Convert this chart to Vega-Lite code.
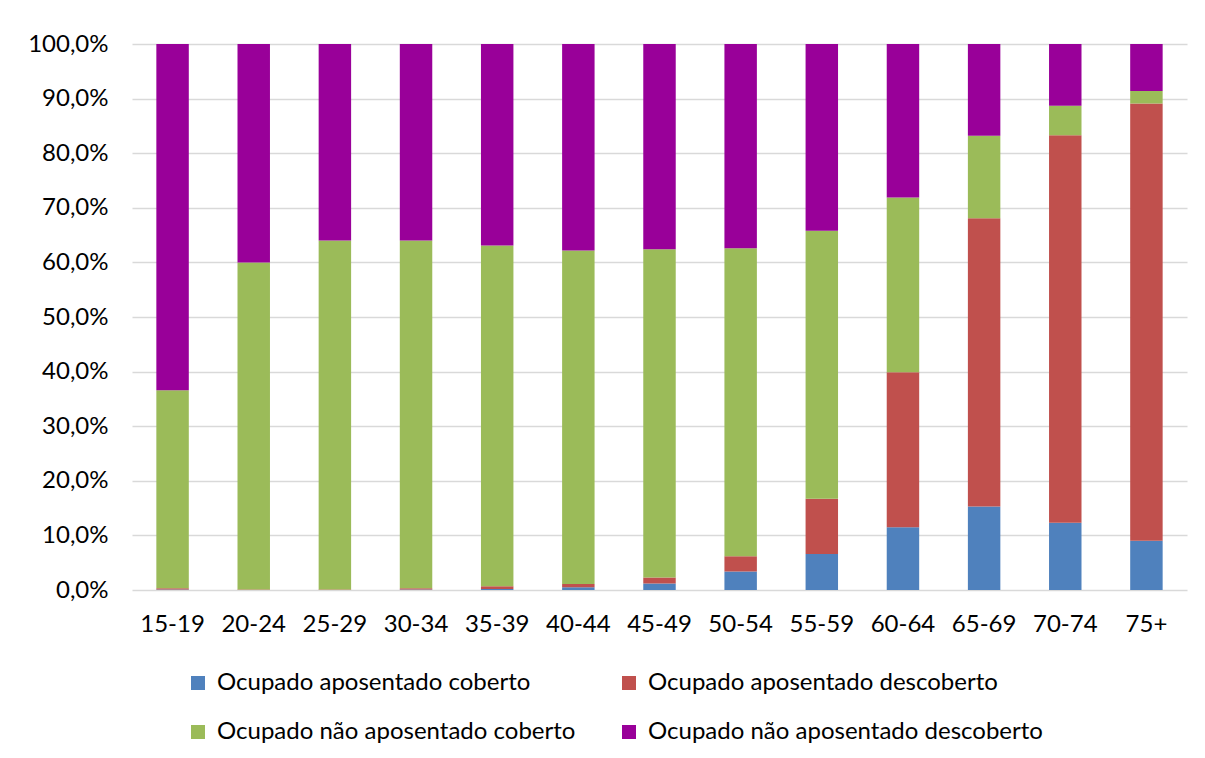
{
  "$schema": "https://vega.github.io/schema/vega-lite/v6.json",
  "width": 1055,
  "height": 546,
  "autosize": {"type": "none"},
  "padding": {"left": 132, "top": 44, "right": 18, "bottom": 168},
  "background": "white",
  "data": {
    "values": [
      {"idade": "15-19", "cat": "Ocupado aposentado coberto", "ordem": 1, "valor": 0.1},
      {"idade": "15-19", "cat": "Ocupado aposentado descoberto", "ordem": 2, "valor": 0.2},
      {"idade": "15-19", "cat": "Ocupado não aposentado coberto", "ordem": 3, "valor": 36.3},
      {"idade": "15-19", "cat": "Ocupado não aposentado descoberto", "ordem": 4, "valor": 63.4},
      {"idade": "20-24", "cat": "Ocupado aposentado coberto", "ordem": 1, "valor": 0.0},
      {"idade": "20-24", "cat": "Ocupado aposentado descoberto", "ordem": 2, "valor": 0.1},
      {"idade": "20-24", "cat": "Ocupado não aposentado coberto", "ordem": 3, "valor": 59.9},
      {"idade": "20-24", "cat": "Ocupado não aposentado descoberto", "ordem": 4, "valor": 40.0},
      {"idade": "25-29", "cat": "Ocupado aposentado coberto", "ordem": 1, "valor": 0.0},
      {"idade": "25-29", "cat": "Ocupado aposentado descoberto", "ordem": 2, "valor": 0.1},
      {"idade": "25-29", "cat": "Ocupado não aposentado coberto", "ordem": 3, "valor": 63.9},
      {"idade": "25-29", "cat": "Ocupado não aposentado descoberto", "ordem": 4, "valor": 36.0},
      {"idade": "30-34", "cat": "Ocupado aposentado coberto", "ordem": 1, "valor": 0.1},
      {"idade": "30-34", "cat": "Ocupado aposentado descoberto", "ordem": 2, "valor": 0.2},
      {"idade": "30-34", "cat": "Ocupado não aposentado coberto", "ordem": 3, "valor": 63.7},
      {"idade": "30-34", "cat": "Ocupado não aposentado descoberto", "ordem": 4, "valor": 36.0},
      {"idade": "35-39", "cat": "Ocupado aposentado coberto", "ordem": 1, "valor": 0.2},
      {"idade": "35-39", "cat": "Ocupado aposentado descoberto", "ordem": 2, "valor": 0.5},
      {"idade": "35-39", "cat": "Ocupado não aposentado coberto", "ordem": 3, "valor": 62.4},
      {"idade": "35-39", "cat": "Ocupado não aposentado descoberto", "ordem": 4, "valor": 36.9},
      {"idade": "40-44", "cat": "Ocupado aposentado coberto", "ordem": 1, "valor": 0.5},
      {"idade": "40-44", "cat": "Ocupado aposentado descoberto", "ordem": 2, "valor": 0.6},
      {"idade": "40-44", "cat": "Ocupado não aposentado coberto", "ordem": 3, "valor": 61.1},
      {"idade": "40-44", "cat": "Ocupado não aposentado descoberto", "ordem": 4, "valor": 37.8},
      {"idade": "45-49", "cat": "Ocupado aposentado coberto", "ordem": 1, "valor": 1.2},
      {"idade": "45-49", "cat": "Ocupado aposentado descoberto", "ordem": 2, "valor": 1.1},
      {"idade": "45-49", "cat": "Ocupado não aposentado coberto", "ordem": 3, "valor": 60.1},
      {"idade": "45-49", "cat": "Ocupado não aposentado descoberto", "ordem": 4, "valor": 37.6},
      {"idade": "50-54", "cat": "Ocupado aposentado coberto", "ordem": 1, "valor": 3.4},
      {"idade": "50-54", "cat": "Ocupado aposentado descoberto", "ordem": 2, "valor": 2.8},
      {"idade": "50-54", "cat": "Ocupado não aposentado coberto", "ordem": 3, "valor": 56.4},
      {"idade": "50-54", "cat": "Ocupado não aposentado descoberto", "ordem": 4, "valor": 37.4},
      {"idade": "55-59", "cat": "Ocupado aposentado coberto", "ordem": 1, "valor": 6.6},
      {"idade": "55-59", "cat": "Ocupado aposentado descoberto", "ordem": 2, "valor": 10.1},
      {"idade": "55-59", "cat": "Ocupado não aposentado coberto", "ordem": 3, "valor": 49.1},
      {"idade": "55-59", "cat": "Ocupado não aposentado descoberto", "ordem": 4, "valor": 34.2},
      {"idade": "60-64", "cat": "Ocupado aposentado coberto", "ordem": 1, "valor": 11.5},
      {"idade": "60-64", "cat": "Ocupado aposentado descoberto", "ordem": 2, "valor": 28.4},
      {"idade": "60-64", "cat": "Ocupado não aposentado coberto", "ordem": 3, "valor": 32.0},
      {"idade": "60-64", "cat": "Ocupado não aposentado descoberto", "ordem": 4, "valor": 28.1},
      {"idade": "65-69", "cat": "Ocupado aposentado coberto", "ordem": 1, "valor": 15.3},
      {"idade": "65-69", "cat": "Ocupado aposentado descoberto", "ordem": 2, "valor": 52.8},
      {"idade": "65-69", "cat": "Ocupado não aposentado coberto", "ordem": 3, "valor": 15.1},
      {"idade": "65-69", "cat": "Ocupado não aposentado descoberto", "ordem": 4, "valor": 16.8},
      {"idade": "70-74", "cat": "Ocupado aposentado coberto", "ordem": 1, "valor": 12.3},
      {"idade": "70-74", "cat": "Ocupado aposentado descoberto", "ordem": 2, "valor": 71.0},
      {"idade": "70-74", "cat": "Ocupado não aposentado coberto", "ordem": 3, "valor": 5.4},
      {"idade": "70-74", "cat": "Ocupado não aposentado descoberto", "ordem": 4, "valor": 11.3},
      {"idade": "75+", "cat": "Ocupado aposentado coberto", "ordem": 1, "valor": 9.0},
      {"idade": "75+", "cat": "Ocupado aposentado descoberto", "ordem": 2, "valor": 80.1},
      {"idade": "75+", "cat": "Ocupado não aposentado coberto", "ordem": 3, "valor": 2.3},
      {"idade": "75+", "cat": "Ocupado não aposentado descoberto", "ordem": 4, "valor": 8.6}
    ]
  },
  "mark": {"type": "bar"},
  "encoding": {
    "x": {
      "field": "idade",
      "type": "nominal",
      "sort": null,
      "title": null,
      "scale": {"paddingInner": 0.6, "paddingOuter": 0.3},
      "axis": {"labelAngle": 0, "domain": false, "ticks": false, "labelPadding": 22, "labelFontSize": 24, "labelFont": "Lato", "labelColor": "#000000", "grid": false}
    },
    "y": {
      "field": "valor",
      "type": "quantitative",
      "stack": "zero",
      "title": null,
      "scale": {"domain": [0, 100], "nice": false},
      "axis": {
        "values": [0, 10, 20, 30, 40, 50, 60, 70, 80, 90, 100],
        "labelExpr": "replace(format(datum.value, '.1f'), '.', ',') + '%'",
        "domain": false,
        "ticks": false,
        "labelPadding": 24,
        "labelFontSize": 24,
        "labelFont": "Lato",
        "labelColor": "#000000",
        "gridColor": "#D9D9D9",
        "gridWidth": 1.5
      }
    },
    "order": {"field": "ordem", "type": "quantitative"},
    "color": {
      "field": "cat",
      "type": "nominal",
      "title": null,
      "scale": {
        "domain": ["Ocupado aposentado coberto", "Ocupado aposentado descoberto", "Ocupado não aposentado coberto", "Ocupado não aposentado descoberto"],
        "range": ["#4F81BD", "#C0504D", "#9BBB59", "#990099"]
      },
      "legend": {
        "orient": "none",
        "direction": "horizontal",
        "legendX": 54,
        "legendY": 627,
        "columns": 2,
        "columnPadding": 41,
        "rowPadding": 25,
        "symbolType": "square",
        "symbolSize": 196,
        "symbolStrokeWidth": 0,
        "labelFontSize": 24,
        "labelFont": "Lato",
        "labelColor": "#000000",
        "labelOffset": 7,
        "labelLimit": 0
      }
    }
  },
  "config": {
    "view": {"stroke": null}
  }
}
